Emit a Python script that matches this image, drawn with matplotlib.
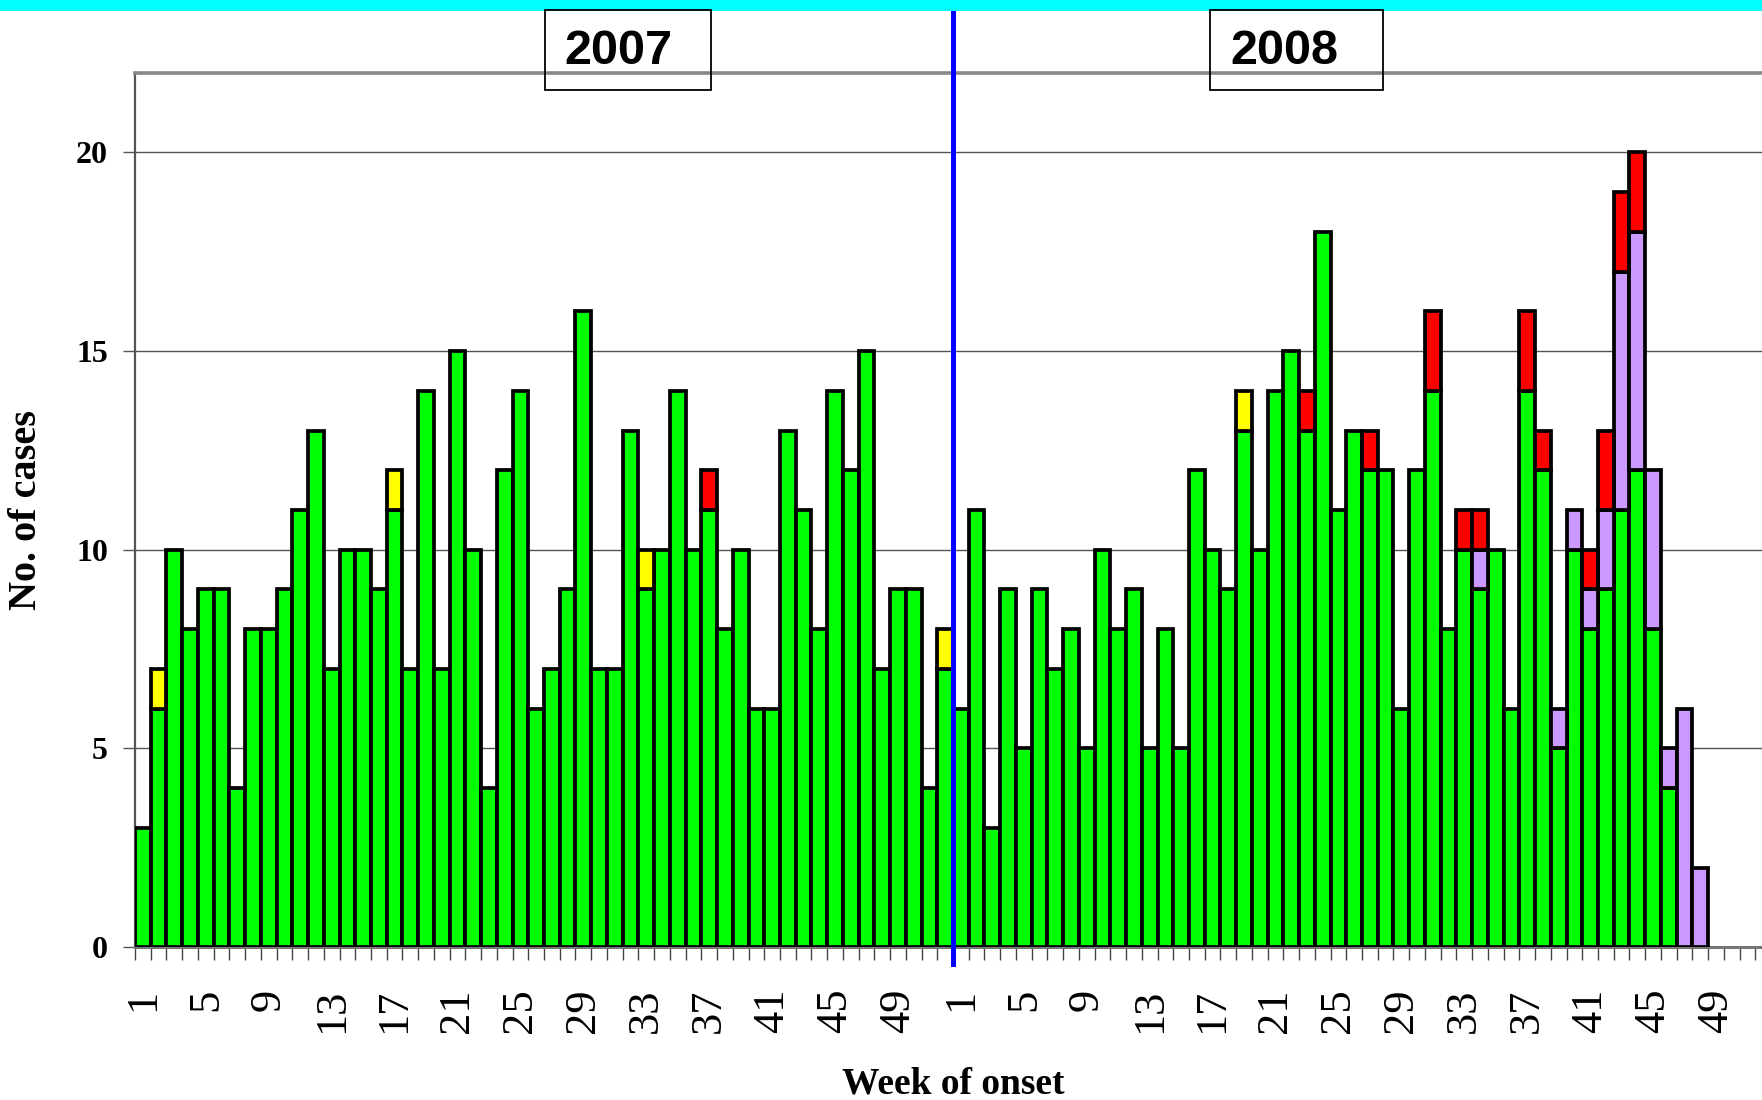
import matplotlib
matplotlib.use("Agg")
import matplotlib.pyplot as plt
from matplotlib.patches import Rectangle
import numpy as np

# ---- data ----
years = ["2007", "2008"]
weeks_per_year = 52

green_2007 = [3, 6, 10, 8, 9, 9, 4, 8, 8, 9, 11, 13, 7, 10, 10, 9, 11, 7, 14, 7,
              15, 10, 4, 12, 14, 6, 7, 9, 16, 7, 7, 13, 9, 10, 14, 10, 11, 8, 10, 6,
              6, 13, 11, 8, 14, 12, 15, 7, 9, 9, 4, 7]
yellow_2007 = [0, 1, 0, 0, 0, 0, 0, 0, 0, 0, 0, 0, 0, 0, 0, 0, 1, 0, 0, 0,
               0, 0, 0, 0, 0, 0, 0, 0, 0, 0, 0, 0, 1, 0, 0, 0, 0, 0, 0, 0,
               0, 0, 0, 0, 0, 0, 0, 0, 0, 0, 0, 1]
purple_2007 = [0] * 52
red_2007 = [0] * 36 + [1] + [0] * 15

green_2008 = [6, 11, 3, 9, 5, 9, 7, 8, 5, 10, 8, 9, 5, 8, 5, 12, 10, 9, 13, 10,
              14, 15, 13, 18, 11, 13, 12, 12, 6, 12, 14, 8, 10, 9, 10, 6, 14, 12, 5, 10,
              8, 9, 11, 12, 8, 4, 0, 0, 0, 0, 0, 0]
yellow_2008 = [0] * 18 + [1] + [0] * 33
purple_2008 = [0] * 33 + [1, 0, 0, 0, 0, 1, 1, 1, 2, 6, 6, 4, 1, 6, 2, 0, 0, 0, 0]
red_2008 = [0] * 22 + [1, 0, 0, 0, 1, 0, 0, 0, 2, 0, 1, 1, 0, 0, 2, 1, 0, 0, 1, 2, 2, 2,
                       0, 0, 0, 0, 0, 0, 0, 0]

label_weeks = [1, 5, 9, 13, 17, 21, 25, 29, 33, 37, 41, 45, 49]
y_ticks = [0, 5, 10, 15, 20]

series = [
    ("green", green_2007 + green_2008, "#00FF00"),
    ("yellow", yellow_2007 + yellow_2008, "#FFFF00"),
    ("purple", purple_2007 + purple_2008, "#CC99FF"),
    ("red", red_2007 + red_2008, "#FF0000"),
]

# ---- figure ----
W, H = 1762, 1100
fig = plt.figure(figsize=(W / 100, H / 100), dpi=100)
fig.patch.set_facecolor("white")

ax_left, ax_right, ax_top, ax_bottom = 135, 1771, 73, 947
ax = fig.add_axes([ax_left / W, 1 - ax_bottom / H, (ax_right - ax_left) / W,
                   (ax_bottom - ax_top) / H])

n = weeks_per_year * len(years)
x = np.arange(1, n + 1)
bottom = np.zeros(n)
for name, vals, col in series:
    v = np.array(vals, dtype=float)
    m = v > 0
    ax.bar(x[m], v[m], bottom=bottom[m], width=1.0, color=col,
           edgecolor="black", linewidth=2.7, zorder=3)
    bottom += v

ax.set_xlim(0.5, n + 0.5)
ax.set_ylim(0, 22)

# grid
ax.set_yticks(y_ticks)
ax.yaxis.grid(True, color="#555555", linewidth=1.0, zorder=0)
ax.set_axisbelow(True)

serif = ["Liberation Serif", "DejaVu Serif"]
ax.set_yticklabels([str(t) for t in y_ticks], fontfamily=serif,
                   fontweight="bold", fontsize=23)
ax.tick_params(axis="y", direction="out", length=8.5, width=1.0,
               color="#555555", pad=11)

# x ticks: labels at centers, marks at boundaries
lab_pos = [w for w in label_weeks] + [w + weeks_per_year for w in label_weeks]
ax.set_xticks(lab_pos)
ax.set_xticklabels([str(w) for w in label_weeks] * 2, rotation=90,
                   fontfamily=serif, fontsize=32, va="top", ha="center")
ax.tick_params(axis="x", which="major", length=0, pad=30)
ax.set_xticks(np.arange(0.5, n + 1.5, 1.0), minor=True)
ax.tick_params(axis="x", which="minor", length=9.5, width=1.0,
               color="#444444", direction="out")

# spines
ax.spines["right"].set_visible(False)
ax.spines["top"].set_color("#888888")
ax.spines["top"].set_linewidth(2.6)
ax.spines["left"].set_color("#555555")
ax.spines["left"].set_linewidth(1.6)
ax.spines["bottom"].set_color("#777777")
ax.spines["bottom"].set_linewidth(2.2)

# labels
ax.set_xlabel("Week of onset", fontfamily=serif, fontweight="bold", fontsize=27)
ax.xaxis.set_label_coords(0.5, (ax_bottom - 1066) / (ax_bottom - ax_top))
ax.set_ylabel("No. of cases", fontfamily=serif, fontweight="bold", fontsize=29,
              va="center")
ax.yaxis.set_label_coords((27 - ax_left) / (ax_right - ax_left), 0.5)

# year divider line
ytop = (ax_bottom - 13) / (ax_bottom - ax_top)
ybot = (ax_bottom - 964) / (ax_bottom - ax_top)
ax.plot([weeks_per_year + 0.5] * 2, [ybot, ytop], color="#0000FF", linewidth=3.6,
        transform=ax.get_xaxis_transform(), clip_on=False, zorder=5)

# cyan band at top
fig.patches.append(Rectangle((0, 1 - 11 / H), 1, 11 / H, transform=fig.transFigure,
                             facecolor="#00FFFF", edgecolor="none", zorder=0))

# year boxes
boxes = [(545, 711, 618), (1210, 1383, 1284)]
for (bx0, bx1, tx), yr in zip(boxes, years):
    fig.patches.append(Rectangle((bx0 / W, 1 - 90 / H), (bx1 - bx0) / W, 80 / H,
                                 transform=fig.transFigure, facecolor="none",
                                 edgecolor="black", linewidth=1.3, zorder=6))
    fig.text(tx / W, 1 - 52 / H, yr, ha="center", va="center",
             fontfamily=["Liberation Sans", "DejaVu Sans"], fontweight="bold",
             fontsize=35, zorder=7)

fig.savefig("out.png", dpi=100, facecolor="white")
